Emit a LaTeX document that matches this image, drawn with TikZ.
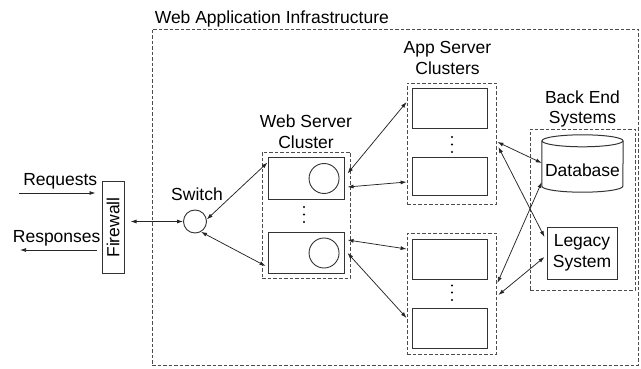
\documentclass[tikz,border=0pt]{standalone}
\usepackage{fontspec}
\setmainfont{Liberation Sans}
\usetikzlibrary{positioning,arrows.meta}
\tikzstyle{srvbox} = [draw=black!80, line width=1pt, rectangle, minimum width=75pt, minimum height=40pt, inner sep=0pt]
\tikzstyle{grpbox} = [draw=black!70, line width=0.8pt, dash pattern=on 3.5pt off 2pt, rectangle, inner sep=0pt]
\tikzstyle{lbl} = [align=center, inner sep=1pt]
\tikzstyle{link} = [draw=black!85, line width=0.75pt, {Latex[length=6pt,width=4pt]}-{Latex[length=6pt,width=4pt]}]
\tikzstyle{onelink} = [draw=black!85, line width=0.75pt, -{Latex[length=6pt,width=4pt]}]

\begin{document}
\begin{tikzpicture}[x=1pt, y=-1pt, font=\fontsize{17.5}{20.5}\selectfont]
	\useasboundingbox (0,0) rectangle (641,369);
	% infrastructure frame
	\node [grpbox, minimum width=486pt, minimum height=336pt] (infra) at (395,197) {};
	\node [lbl, anchor=base west, inner sep=0pt] (title) at ([xshift=3pt,yshift=5pt]infra.north west) {Web Application Infrastructure};

	% firewall and switch
	\node [srvbox, minimum width=22pt, minimum height=91pt] (fw) at (113,227.5) {\rotatebox{90}{Firewall}};
	\node [circle, draw=black!80, line width=0.9pt, minimum size=23pt, inner sep=0pt] (sw) at (195,221.5) {};
	\node [lbl, above=8pt of sw, xshift=2pt] (swlbl) {Switch};
	\coordinate (reqin) at (19,193);
	\coordinate (respout) at (20,250);

	% web server cluster
	\node [grpbox, minimum width=88pt, minimum height=126pt] (webcl) at (306,215) {};
	\node [lbl, above=2pt of webcl] (weblbl) {Web Server\\Cluster};
	\node [srvbox, minimum width=76pt, minimum height=41pt] (web1) at (306,178.5) {};
	\node [srvbox, minimum width=76pt, minimum height=41pt] (web2) at (306,253) {};
	\node [circle, draw=black!80, line width=0.9pt, minimum size=30pt, inner sep=0pt, left=5pt of web1.east] (web1c) {};
	\node [circle, draw=black!80, line width=0.9pt, minimum size=30pt, inner sep=0pt, left=5pt of web2.east] (web2c) {};
	\foreach \y in {207,214.5,222}
		\fill (304,\y) circle[radius=1.1pt];

	% app server clusters
	\node [grpbox, minimum width=89pt, minimum height=121pt] (app1) at (451.5,143.5) {};
	\node [grpbox, minimum width=89pt, minimum height=121pt] (app2) at (451.5,293.5) {};
	\node [lbl, above=7pt of app1, xshift=-4pt] (applbl) {App Server\\Clusters};
	\node [srvbox] (a1) at (449.5,109) {};
	\node [srvbox, minimum height=38pt] (a2) at (449.5,176.5) {};
	\node [srvbox] (a3) at (449.5,259) {};
	\node [srvbox] (a4) at (449.5,328) {};
	\foreach \y in {137,144.5,152,285.5,292.5,300}
		\fill (452,\y) circle[radius=1.1pt];

	% back end systems
	\node [grpbox, minimum width=105pt, minimum height=161pt] (becl) at (582.5,209.5) {};
	\node [lbl, above=0pt of becl] (belbl) {Back End\\Systems};
	\node [minimum width=81pt, minimum height=44pt, inner sep=0pt] (db) at (582.5,170) {Database};
	\draw [draw=black!80, line width=1pt] ([yshift=7pt]db.north west) -- ([yshift=6pt]db.south west)
		arc[start angle=180, end angle=360, x radius=40.5pt, y radius=6pt] -- ([yshift=7pt]db.north east);
	\draw [draw=black!80, line width=1pt] ([yshift=7pt]db.north) ellipse[x radius=40.5pt, y radius=6pt];
	\node [srvbox, minimum width=70pt, minimum height=52pt, align=center] (leg) at (582,253) {Legacy\\System};

	% connectors
	\draw [onelink, shorten >=6pt] (reqin) -- node [lbl, above=2pt] (reqlbl) {Requests} (reqin -| fw.west);
	\draw [onelink, shorten <=5pt] (respout -| fw.west) -- node [lbl, above=2pt, pos=0.55] (resplbl) {Responses} (respout);
	\draw [link, shorten <=6pt] (fw.east |- sw.west) -- (sw.west);
	\draw [link] (sw.10) -- ([yshift=-5pt]web1.north west);
	\draw [link] (sw.-60) -- ([xshift=-2pt,yshift=8pt]web2.south west);
	\draw [link] ([xshift=3pt,yshift=5pt]web1.east) -- ([yshift=41.5pt]app1.west);
	\draw [link] ([xshift=3pt,yshift=-8.5pt]web1.east) -- ([yshift=-38.5pt]app1.west);
	\draw [link] ([xshift=3pt,yshift=13pt]web2.east) -- ([yshift=44.5pt]app2.west);
	\draw [link] ([xshift=3pt]web2.east) -- ([yshift=-24.5pt]app2.west);
	\draw [link] ([xshift=1pt,yshift=1.5pt]app1.east) -- ([yshift=7pt]db.west);
	\draw [link] ([xshift=2pt,yshift=-3.5pt]app1.east) -- ([xshift=-2pt,yshift=16pt]leg.west);
	\draw [link] ([xshift=1pt,yshift=10.5pt]app2.east) -- ([yshift=-12pt]db.west);
	\draw [link] ([xshift=2pt,yshift=-1.5pt]app2.east) -- ([xshift=-2pt,yshift=-4pt]leg.west);
\end{tikzpicture}
\end{document}
